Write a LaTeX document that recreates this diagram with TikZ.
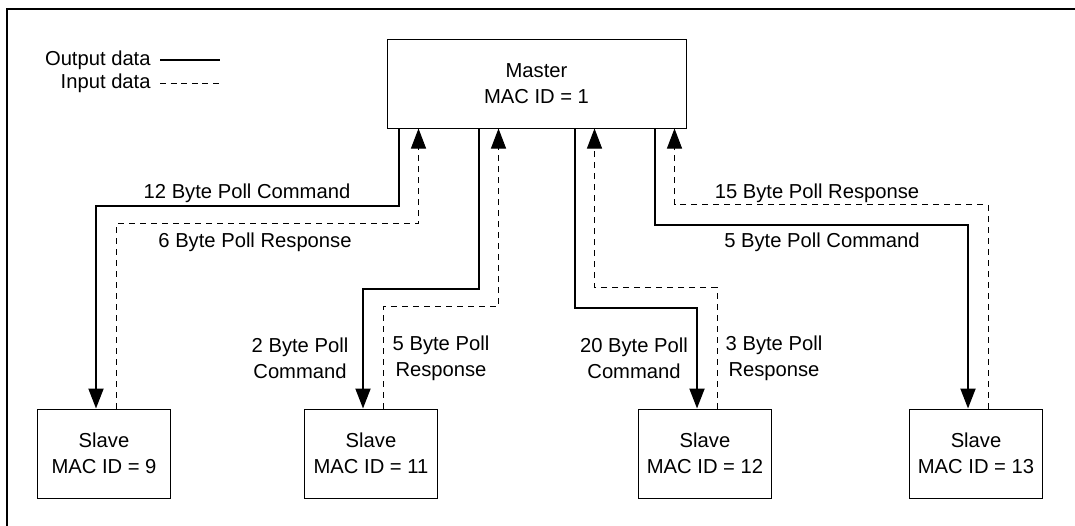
\documentclass[tikz,border=0pt]{standalone}
\usepackage{fontspec}
\setmainfont{Liberation Sans}
\usetikzlibrary{arrows.meta, calc}
\tikzstyle{master} = [rectangle, minimum width=149.5pt, minimum height=44.5pt, inner sep=0pt, align=center, draw=black, line width=0.5pt]
\tikzstyle{slave} = [rectangle, minimum width=66.5pt, minimum height=44.5pt, inner sep=0pt, align=center, draw=black, line width=0.5pt]
\tikzstyle{cmdarrow} = [line width=1pt, -{Triangle[length=10pt,width=7.5pt]}]
\tikzstyle{resparrow} = [line width=0.5pt, dash pattern=on 3pt off 2.5pt, -{Triangle[length=10pt,width=7.5pt]}]
\tikzstyle{lbl} = [anchor=base, inner sep=0pt]
\tikzstyle{lbltwo} = [align=center, inner sep=0pt]

\begin{document}
\begin{tikzpicture}[x=0.5pt, y=-0.5pt, font=\fontsize{10.1}{12.8}\selectfont]
\useasboundingbox (0,0) rectangle (1075,525);
\draw [line width=1.4pt] (7,535) -- (7,9) -- (1085,9);

% legend
\node (outlbl) [anchor=base east, inner sep=0pt] at (151,65) {Output data};
\node (inlbl) [anchor=base east, inner sep=0pt] at (151,88) {Input data};
\draw [line width=0.6pt] ($(outlbl.base east)+(9,-5)$) -- ++(60,0);
\draw [line width=0.5pt, dash pattern=on 3pt off 2.3pt] ($(inlbl.base east)+(9,-5)$) -- ++(60,0);

% stations
\node (master) [master] at (536.5,83.5) {Master\\MAC ID = 1};
\node (s9) [slave] at (104,453.5) {Slave\\MAC ID = 9};
\node (s11) [slave] at (371,453.5) {Slave\\MAC ID = 11};
\node (s12) [slave] at (705,453.5) {Slave\\MAC ID = 12};
\node (s13) [slave] at (976,453.5) {Slave\\MAC ID = 13};

% poll commands and responses
\draw [cmdarrow] ($(master.south)+(-138,0)$) -- ++(0,77) -| ($(s9.north)+(-8,0)$);
\draw [resparrow] ($(s9.north)+(12,0)$) -- ++(0,-185) -| ($(master.south)+(-118,0)$);
\draw [cmdarrow] ($(master.south)+(-58,0)$) -- ++(0,160) -| ($(s11.north)+(-8,0)$);
\draw [resparrow] ($(s11.north)+(12,0)$) -- ++(0,-102) -| ($(master.south)+(-38,0)$);
\draw [cmdarrow] ($(master.south)+(38,0)$) -- ++(0,179) -| ($(s12.north)+(-8,0)$);
\draw [resparrow] ($(s12.north)+(12,0)$) -- ++(0,-121) -| ($(master.south)+(58,0)$);
\draw [cmdarrow] ($(master.south)+(118,0)$) -- ++(0,96) -| ($(s13.north)+(-8,0)$);
\draw [resparrow] ($(s13.north)+(12,0)$) -- ++(0,-204) -| ($(master.south)+(138,0)$);

% labels
\node (c9) [lbl] at (247,198) {12 Byte Poll Command};
\node (r9) [lbl] at (255,247) {6 Byte Poll Response};
\node (c11) [lbltwo] at (300,358) {2 Byte Poll\\Command};
\node (r11) [lbltwo] at (441,358) {5 Byte Poll\\Response};
\node (c12) [lbltwo] at (634,358) {20 Byte Poll\\Command};
\node (r12) [lbltwo] at (774,358) {3 Byte Poll\\Response};
\node (r13) [lbl] at (817,198) {15 Byte Poll Response};
\node (c13) [lbl] at (822,247) {5 Byte Poll Command};

\end{tikzpicture}
\end{document}
